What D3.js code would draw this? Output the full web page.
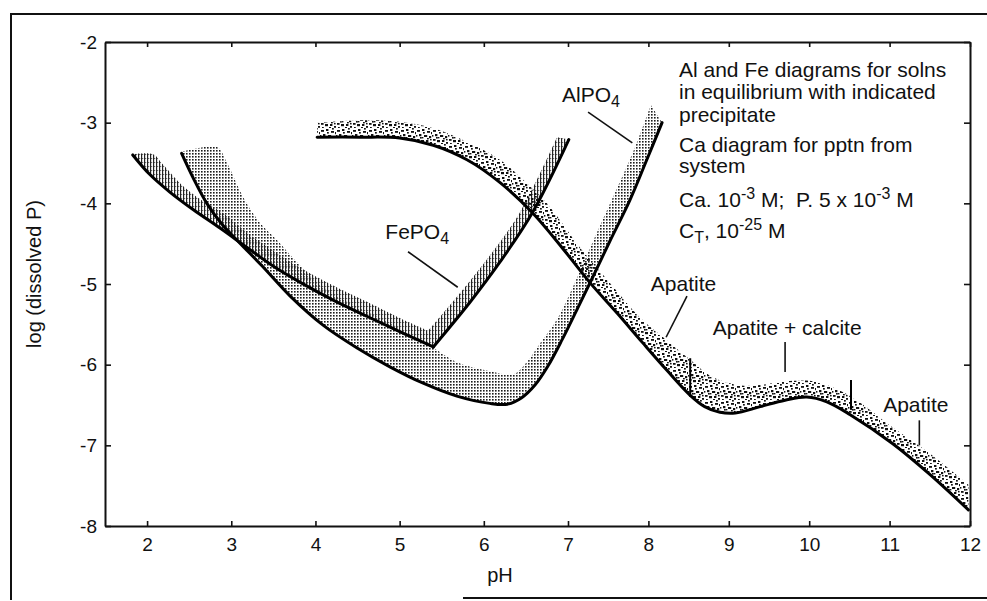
<!DOCTYPE html>
<html><head><meta charset="utf-8">
<script src="https://cdn.jsdelivr.net/npm/d3@7"></script>
<style>
body{margin:0;background:#fff;}
svg{display:block;font-family:"Liberation Sans",Arial,Helvetica,sans-serif;}
</style></head><body>
<svg id="chart" width="987" height="601"></svg>
<script>
// ---------- data ----------
const xTicks = [2,3,4,5,6,7,8,9,10,11,12];
const yTicks = [-8,-7,-6,-5,-4,-3,-2];

// FePO4 band (pH, log dissolved P)
const fePO4LowerLeft  = [[1.83,-3.40],[2.03,-3.64],[2.27,-3.86],[2.55,-4.08],[2.87,-4.31],[3.19,-4.55],[3.50,-4.78],[3.82,-4.98],[4.21,-5.20],[4.61,-5.40],[5.00,-5.59],[5.40,-5.78]];
const fePO4LowerRight = [[5.40,-5.78],[5.84,-5.22],[6.19,-4.73],[6.58,-4.11],[7.01,-3.21]];
const fePO4UpperLeft  = [[1.83,-3.39],[2.07,-3.39],[2.19,-3.52],[2.39,-3.75],[2.63,-3.95],[2.93,-4.14],[3.22,-4.39],[3.52,-4.60],[3.82,-4.80],[4.21,-5.02],[4.61,-5.22],[5.00,-5.42],[5.34,-5.58]];
const fePO4UpperRight = [[5.34,-5.58],[5.72,-5.11],[6.07,-4.65],[6.43,-4.11],[6.87,-3.18]];

// AlPO4 band
const alPO4Lower = [[2.41,-3.38],[2.55,-3.69],[2.71,-4.00],[2.89,-4.26],[3.10,-4.49],[3.37,-4.78],[3.70,-5.15],[4.09,-5.51],[4.49,-5.79],[4.89,-6.03],[5.28,-6.23],[5.68,-6.39],[6.07,-6.48],[6.28,-6.49],[6.45,-6.41],[6.61,-6.25],[6.76,-6.02],[6.93,-5.69],[7.11,-5.32],[7.31,-4.91],[7.52,-4.47],[7.77,-3.96],[7.98,-3.46],[8.17,-3.00]];
const alPO4Upper = [[2.41,-3.36],[2.63,-3.31],[2.83,-3.30],[2.95,-3.50],[3.14,-3.92],[3.34,-4.24],[3.54,-4.45],[3.78,-4.73],[4.05,-5.01],[4.41,-5.24],[4.77,-5.42],[5.12,-5.62],[5.40,-5.79],[5.68,-5.97],[6.07,-6.08],[6.35,-6.12],[6.51,-5.97],[6.68,-5.72],[6.88,-5.42],[7.10,-4.95],[7.32,-4.45],[7.57,-3.90],[7.82,-3.34],[8.03,-2.78]];

// Ca (apatite / calcite) band
const caLower = [[4.02,-3.18],[4.53,-3.18],[5.00,-3.19],[5.40,-3.28],[5.80,-3.46],[6.19,-3.74],[6.58,-4.12],[6.93,-4.55],[7.27,-4.98],[7.61,-5.36],[7.93,-5.73],[8.23,-6.07],[8.52,-6.38],[8.70,-6.52],[8.89,-6.59],[9.08,-6.60],[9.39,-6.52],[9.70,-6.44],[9.97,-6.40],[10.22,-6.46],[10.51,-6.62],[11.04,-6.98],[11.50,-7.36],[11.98,-7.80]];
const caUpper = [[4.02,-3.00],[4.61,-2.97],[5.00,-2.99],[5.40,-3.07],[5.80,-3.24],[6.19,-3.46],[6.51,-3.75],[6.75,-4.00],[7.15,-4.55],[7.49,-4.95],[7.90,-5.42],[8.22,-5.69],[8.52,-5.94],[8.79,-6.15],[9.18,-6.26],[9.80,-6.20],[10.07,-6.21],[10.51,-6.39],[11.04,-6.78],[11.47,-7.08],[11.98,-7.49]];

// phase-boundary marks on the Ca curve [pH, top, bottom]
const boundaryMarks = [[8.52,-5.92,-6.40],[10.52,-6.19,-6.56]];

// labels and leader lines
const curveLabels = [
  {text:"AlPO", sub:"4", pH:6.93, logP:-2.74},
  {text:"FePO", sub:"4", pH:4.83, logP:-4.44},
  {text:"Apatite", sub:"", pH:8.03, logP:-5.09},
  {text:"Apatite + calcite", sub:"", pH:8.80, logP:-5.63},
  {text:"Apatite", sub:"", pH:10.92, logP:-6.59}
];
const leaders = [
  [[7.25,-2.87],[7.80,-3.25]],
  [[5.10,-4.60],[5.69,-5.04]],
  [[8.48,-5.15],[8.22,-5.66]],
  [[9.70,-5.72],[9.70,-6.09]],
  [[11.37,-6.69],[11.37,-7.00]]
];

const noteLines = [
  [{t:"Al and Fe diagrams for solns"}],
  [{t:"in equilibrium with indicated"}],
  [{t:"precipitate"}],
  [{t:"Ca diagram for pptn from"}],
  [{t:"system"}],
  [{t:"Ca. 10"},{t:"-3",s:"sup"},{t:" M;\u00a0 P. 5 x 10"},{t:"-3",s:"sup"},{t:" M"}],
  [{t:"C"},{t:"T",s:"sub"},{t:", 10"},{t:"-25",s:"sup"},{t:" M"}]
];
const noteBaselines = [77,99,122,152,173,207,238];

// ---------- drawing ----------
const svg = d3.select("#chart");
const x = d3.scaleLinear().domain([1.5,7,12]).range([105,568,970]);
const y = d3.scaleLinear().domain([-8,-2]).range([526,42]);

const defs = svg.append("defs");
const pAl = defs.append("pattern").attr("id","patAl").attr("patternUnits","userSpaceOnUse").attr("width",3).attr("height",3);
pAl.append("rect").attr("width",1.6).attr("height",1.6).attr("fill","#1c1c1c");
const pFe = defs.append("pattern").attr("id","patFe").attr("patternUnits","userSpaceOnUse").attr("width",3).attr("height",4);
pFe.append("rect").attr("width",1.2).attr("height",4).attr("fill","#222");
pFe.append("rect").attr("x",1.2).attr("y",2).attr("width",1).attr("height",1).attr("fill","#444");
const pCa = defs.append("pattern").attr("id","patCa").attr("patternUnits","userSpaceOnUse").attr("width",16).attr("height",16);
[[1,2,3,1.8],[6,1,2.4,2],[11,3,3,1.8],[3,6,2.4,2.2],[8,7,3.2,2],[13,8,2.2,2.2],[1,11,2.6,1.8],[5,12,3,2.2],[10,12,2.4,2],[14,14,2,1.8],[7,4,1.8,1.6],[12,0,1.8,1.6],[2,15,1.8,1],[9,15,2,1],[15,4,1,2.2],[4,9,1.8,1.6],[11,10,1.8,1.4],[0,7,1.4,1.6],[14,11,1.6,1.4],[6,9,1.4,1.4]]
  .forEach(b=>pCa.append("rect").attr("x",b[0]).attr("y",b[1]).attr("width",b[2]).attr("height",b[3]).attr("fill","#111"));

// outer page frame
svg.append("path").attr("d","M987,14 L11,14 L11,600").attr("fill","none").attr("stroke","#111").attr("stroke-width",2);
svg.append("path").attr("d","M463,598 L987,598").attr("fill","none").attr("stroke","#111").attr("stroke-width",2);

const lineC = d3.line().x(d=>x(d[0])).y(d=>y(d[1])).curve(d3.curveCatmullRom.alpha(0.5));
function bandPath(upperSegs, lowerSegs){
  let p = upperSegs.map((s,i)=> i===0 ? lineC(s) : lineC(s).replace(/^M/,"L")).join("");
  const low = lowerSegs.slice().reverse().map(s=>s.slice().reverse());
  p += low.map(s=>lineC(s).replace(/^M/,"L")).join("");
  return p + "Z";
}

const g = svg.append("g");
g.append("path").attr("d",bandPath([alPO4Upper],[alPO4Lower])).attr("fill","url(#patAl)");
g.append("path").attr("d",bandPath([fePO4UpperLeft,fePO4UpperRight],[fePO4LowerLeft,fePO4LowerRight])).attr("fill","url(#patFe)");
g.append("path").attr("d",bandPath([caUpper],[caLower])).attr("fill","url(#patCa)");

[fePO4LowerLeft,fePO4LowerRight,alPO4Lower,caLower].forEach(s=>{
  g.append("path").attr("d",lineC(s)).attr("fill","none").attr("stroke","#000")
   .attr("stroke-width",3).attr("stroke-linejoin","round").attr("stroke-linecap","round");
});

boundaryMarks.forEach(m=>{
  g.append("line").attr("x1",x(m[0])).attr("x2",x(m[0])).attr("y1",y(m[1])).attr("y2",y(m[2]))
   .attr("stroke","#000").attr("stroke-width",2);
});
leaders.forEach(l=>{
  g.append("line").attr("x1",x(l[0][0])).attr("y1",y(l[0][1])).attr("x2",x(l[1][0])).attr("y2",y(l[1][1]))
   .attr("stroke","#111").attr("stroke-width",1.6);
});

// axes
const axB = svg.append("g").attr("transform",`translate(0,${y(-8)})`)
  .call(d3.axisBottom(x).tickValues(xTicks).tickSizeInner(-5).tickSizeOuter(0).tickPadding(12).tickFormat(d3.format("d")));
const axT = svg.append("g").attr("transform",`translate(0,${y(-2)})`)
  .call(d3.axisTop(x).tickValues(xTicks).tickSizeInner(-5).tickSizeOuter(0).tickFormat(""));
const axL = svg.append("g").attr("transform",`translate(${x(1.5)},0)`)
  .call(d3.axisLeft(y).tickValues(yTicks).tickSizeInner(-6).tickSizeOuter(0).tickPadding(8).tickFormat(d=>String(d)));
const axR = svg.append("g").attr("transform",`translate(${x(12)},0)`)
  .call(d3.axisRight(y).tickValues(yTicks).tickSizeInner(-6).tickSizeOuter(0).tickFormat(""));
[axB,axT,axL,axR].forEach(a=>{
  a.select(".domain").attr("stroke","#111").attr("stroke-width",2);
  a.selectAll(".tick line").attr("stroke","#111").attr("stroke-width",1.6);
  a.selectAll("text").attr("font-size",19).attr("fill","#111").attr("font-family","'Liberation Sans',Arial,sans-serif");
});

// axis titles
svg.append("text").attr("x",500).attr("y",582).attr("text-anchor","middle").attr("font-size",20).attr("fill","#111").text("pH");
svg.append("text").attr("transform","translate(41,274) rotate(-90)").attr("text-anchor","middle").attr("font-size",20).attr("fill","#111").text("log (dissolved P)");

// curve labels
curveLabels.forEach(l=>{
  const t = svg.append("text").attr("x",x(l.pH)).attr("y",y(l.logP)).attr("font-size",21).attr("fill","#111");
  t.append("tspan").text(l.text);
  if(l.sub) t.append("tspan").attr("font-size",16).attr("dy",5).text(l.sub);
});

// note block
const note = svg.append("g").attr("font-size",21).attr("fill","#111");
noteLines.forEach((parts,i)=>{
  const t = note.append("text").attr("x",679).attr("y",noteBaselines[i]).attr("xml:space","preserve");
  let shift = 0;
  parts.forEach(p=>{
    const ts = t.append("tspan").text(p.t);
    let target = p.s==="sup" ? -8 : (p.s==="sub" ? 5 : 0);
    if(p.s) ts.attr("font-size",16);
    if(target!==shift){ ts.attr("dy",target-shift); shift=target; }
  });
});
</script>
</body></html>
